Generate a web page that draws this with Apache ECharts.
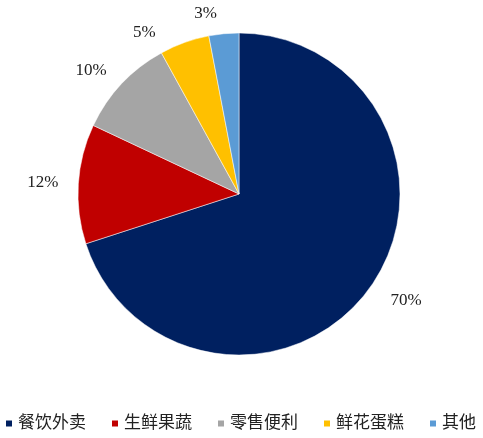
<!DOCTYPE html>
<html><head><meta charset="utf-8">
<script src="https://cdn.jsdelivr.net/npm/echarts@6/dist/echarts.min.js"></script>
<style>html,body{margin:0;padding:0;background:#fff}#c{width:483px;height:438px}</style>
</head><body><div id="c"></div>
<script>
const categories = ['餐饮外卖', '生鲜果蔬', '零售便利', '鲜花蛋糕', '其他'];
const values = [70, 12, 10, 5, 3];
const colors = ['#002060', '#C00000', '#A5A5A5', '#FFC000', '#5B9BD5'];

const chart = echarts.init(document.getElementById('c'), null, {renderer: 'canvas'});
chart.setOption({
  animation: false,
  color: colors,
  legend: {
    top: 415,
    left: 4,
    width: 479,
    padding: 0,
    icon: 'rect',
    itemWidth: 8,
    itemHeight: 8,
    itemGap: 24,
    textStyle: {fontFamily: '"Liberation Serif","Noto Sans CJK SC",serif', fontSize: 17, color: '#222'},
    data: categories
  },
  series: [{
    type: 'pie',
    center: [239, 194],
    radius: 161,
    startAngle: 90,
    clockwise: true,
    itemStyle: {borderColor: '#fff', borderWidth: 0.5},
    label: {
      show: true,
      position: 'outside',
      formatter: '{c}%',
      fontFamily: '"Liberation Serif","Times New Roman",serif',
      fontSize: 17,
      color: '#222'
    },
    labelLine: {show: false, length: 20, length2: 0},
    data: categories.map((n, i) => ({name: n, value: values[i]}))
  }]
});
</script></body></html>
